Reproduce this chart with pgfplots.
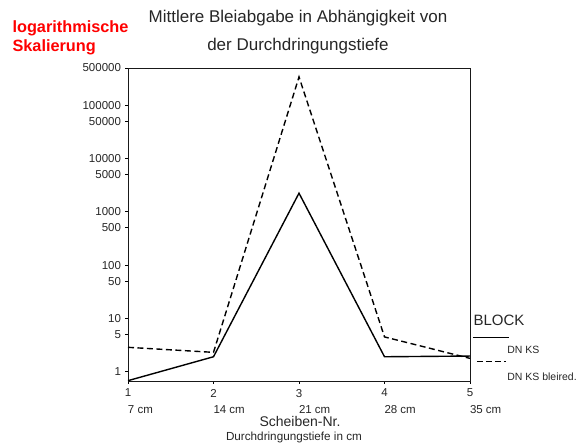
\documentclass[border=0pt]{standalone}
\usepackage{fontspec}
\setmainfont{Liberation Sans}
\usepackage{pgfplots}
\pgfplotsset{compat=1.18}
\begin{document}
\begin{tikzpicture}[x=1pt,y=1pt]
\useasboundingbox (-128,-62) rectangle (452,381);
\begin{axis}[
  at={(0,0)}, anchor=south west,
  scale only axis, width=342pt, height=313pt,
  ymode=log, xmin=1, xmax=5, ymin=0.67, ymax=500000,
  xtick={1,2,3,4,5},
  xticklabels={
    {\makebox[0pt]{1}\\\makebox[0pt][l]{7 cm}},
    {\makebox[0pt]{2}\\\makebox[0pt][l]{14 cm}},
    {\makebox[0pt]{3}\\\makebox[0pt][l]{21 cm}},
    {\makebox[0pt]{4}\\\makebox[0pt][l]{28 cm}},
    {\makebox[0pt]{5}\\\makebox[0pt][l]{35 cm}}},
  ytick={1,5,10,50,100,500,1000,5000,10000,50000,100000,500000},
  yticklabels={1,5,10,50,100,500,1000,5000,10000,50000,100000,500000},
  yminorticks=false,
  tick pos=left, tick align=outside, major tick length=3pt,
  tick style={line width=0.8pt, black},
  yticklabel style={font=\fontsize{11.5}{12}\selectfont, xshift=-0.5pt, text=black!85},
  xticklabel style={font=\fontsize{11.5}{16.5}\selectfont, align=center, text=black!85, yshift=-1.5pt},
  axis line style={line width=0.9pt, black!90},
  clip=false,
  legend cell align=left,
  legend style={draw=none, fill=none, inner sep=0pt, at={(rel axis cs:1.006,0.142)}, anchor=north west,
    font=\fontsize{10.5}{12}\selectfont, row sep=5pt, column sep=-3pt,
    nodes={inner sep=1pt, text=black!85}},
]
\addplot[black, line width=1.4pt, line join=miter,
  legend image code/.code={\draw[black, line width=1pt] (0pt,13pt) -- (36pt,13pt);}]
  coordinates {(1,0.68) (2,1.91) (3,2240) (4,1.91) (5,1.97)};
\addlegendentry{DN KS}
\addplot[black, line width=1.4pt, line join=miter, dash pattern=on 6pt off 3.5pt,
  legend image code/.code={\draw[black, line width=1.4pt, dash pattern=on 6pt off 3pt] (4pt,16.5pt) -- (33pt,16.5pt);}]
  coordinates {(1,2.87) (2,2.31) (3,340000) (4,4.5) (5,1.78)};
\addlegendentry{DN KS bleired.}
\end{axis}
\node[anchor=west, font=\fontsize{15}{17}\selectfont, text=black!85] at (342,61) {BLOCK};
\node[anchor=west, text=red, font=\bfseries\fontsize{16.3}{19}\selectfont] at (-119,353) {logarithmische};
\node[anchor=west, text=red, font=\bfseries\fontsize{16.3}{19}\selectfont] at (-119,334) {Skalierung};
\node[font=\fontsize{17}{20}\selectfont, text=black!85] at (170,363) {Mittlere Bleiabgabe in Abhängigkeit von};
\node[font=\fontsize{17}{20}\selectfont, text=black!85] at (170,335) {der Durchdringungstiefe};
\node[font=\fontsize{14}{16}\selectfont, text=black!85] at (172,-40) {Scheiben-Nr.};
\node[font=\fontsize{11.7}{13}\selectfont, text=black!85] at (166,-56) {Durchdringungstiefe in cm};
\end{tikzpicture}
\end{document}
